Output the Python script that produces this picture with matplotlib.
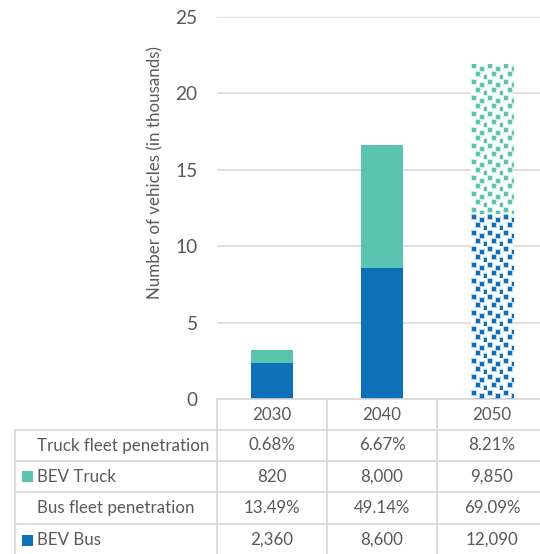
import numpy as np
import matplotlib.pyplot as plt
from matplotlib.lines import Line2D
from matplotlib.patches import Rectangle
from matplotlib.transforms import blended_transform_factory
from matplotlib.colors import to_rgb

# data (vehicles in thousands)
years = ['2030', '2040', '2050']
bev_bus = [2.36, 8.60, 12.09]
bev_truck = [0.82, 8.00, 9.85]
bus_pen = ['13.49%', '49.14%', '69.09%']
truck_pen = ['0.68%', '6.67%', '8.21%']
projected = [False, False, True]   # 2050 drawn with a pattern fill

c_bus = '#0E70B9'
c_truck = '#5BC4AE'
grid_c = '#D9D9D9'
txt_c = '#595959'

plt.rcParams['font.family'] = ['Lato', 'DejaVu Sans']
fs = 12.2

W, H = 540, 554
fig = plt.figure(figsize=(W / 100, H / 100), dpi=100)
ax = fig.add_axes([217 / W, 1 - 399 / H, 330 / W, 382 / H])
x = np.arange(len(years))
ax.set_xlim(-0.5, 2.5)
ax.set_ylim(0, 25)


def pattern_fill(bar, color):
    # small confetti squares clipped to the bar
    (x0, y0), (x1, y1) = ax.transData.transform(
        [[bar.get_x(), bar.get_y()],
         [bar.get_x() + bar.get_width(), bar.get_y() + bar.get_height()]])
    w, h = int(round(x1 - x0)), int(round(y1 - y0))
    tile = np.zeros((16, 16))
    for r, c in [(1, 1), (4, 9), (9, 5), (12, 13)]:
        tile[max(r - 1, 0):r + 5, max(c - 1, 0):c + 5] = 0.3
        tile[r:r + 4, c:c + 4] = 1.0
    alpha = np.tile(tile, (h // 16 + 2, w // 16 + 2))[:h, :w]
    img = np.zeros((h, w, 4))
    img[..., :3] = to_rgb(color)
    img[..., 3] = alpha
    im = ax.imshow(img, extent=[bar.get_x(), bar.get_x() + bar.get_width(),
                                bar.get_y(), bar.get_y() + bar.get_height()],
                   origin='upper', interpolation='nearest', aspect='auto', zorder=3)
    im.set_clip_path(bar)


bw = 0.39
for i in x:
    if projected[i]:
        b1 = ax.bar(i, bev_bus[i], bw, color='white', zorder=2)[0]
        b2 = ax.bar(i, bev_truck[i], bw, bottom=bev_bus[i], color='white', zorder=2)[0]
        pattern_fill(b1, c_bus)
        pattern_fill(b2, c_truck)
    else:
        ax.bar(i, bev_bus[i], bw, color=c_bus, zorder=2)
        ax.bar(i, bev_truck[i], bw, bottom=bev_bus[i], color=c_truck, zorder=2)

ax.set_xlim(-0.5, 2.5)
ax.set_ylim(0, 25)
ax.set_yticks(range(0, 26, 5))
ax.yaxis.grid(True, color=grid_c, lw=1.2)
ax.set_axisbelow(True)
ax.set_xticks([])
for s in ['top', 'right', 'left']:
    ax.spines[s].set_visible(False)
ax.spines['bottom'].set_color(grid_c)
ax.spines['bottom'].set_linewidth(1.2)
ax.tick_params(axis='y', length=0, pad=14, labelsize=fs + 1.6, labelcolor=txt_c)

fig.text(155 / W, 1 - 173 / H, 'Number of vehicles (in thousands)', rotation=90,
         ha='center', va='center', fontsize=fs, color=txt_c)

# data table under the chart
tr = blended_transform_factory(ax.transData, fig.transFigure)
row_lines = [399, 430, 461, 492, 524, 556]
left_px = 15
rows = [
    ('Truck fleet penetration', truck_pen, None),
    ('BEV Truck', [f'{v * 1000:,.0f}' for v in bev_truck], c_truck),
    ('Bus fleet penetration', bus_pen, None),
    ('BEV Bus', [f'{v * 1000:,.0f}' for v in bev_bus], c_bus),
]


def fy(p):
    return 1 - p / H


lw = 1.3
for xe in [-0.5, 0.5, 1.5, 2.5]:
    fig.add_artist(Line2D([xe, xe], [fy(399), fy(560)], transform=tr, color=grid_c, lw=lw))
for yp in row_lines[1:]:
    fig.add_artist(Line2D([left_px / W, 1.0], [fy(yp), fy(yp)], color=grid_c, lw=lw))
fig.add_artist(Line2D([left_px / W, left_px / W], [fy(row_lines[1]), fy(560)], color=grid_c, lw=lw))

for i, yr in enumerate(years):
    fig.text(x[i], fy((row_lines[0] + row_lines[1]) / 2), yr, transform=tr,
             ha='center', va='center', fontsize=fs, color=txt_c)

for r, (label, vals, col) in enumerate(rows):
    yc = fy((row_lines[r + 1] + row_lines[r + 2]) / 2)
    fig.text(37 / W, yc, label, ha='left', va='center', fontsize=fs, color=txt_c)
    if col is not None:
        fig.add_artist(Rectangle((22 / W, yc - 5.5 / H), 11 / W, 11 / H,
                                 transform=fig.transFigure, color=col, lw=0))
    for i, v in enumerate(vals):
        fig.text(x[i], yc, v, transform=tr, ha='center', va='center',
                 fontsize=fs, color=txt_c)

fig.savefig('out.png', dpi=100)
